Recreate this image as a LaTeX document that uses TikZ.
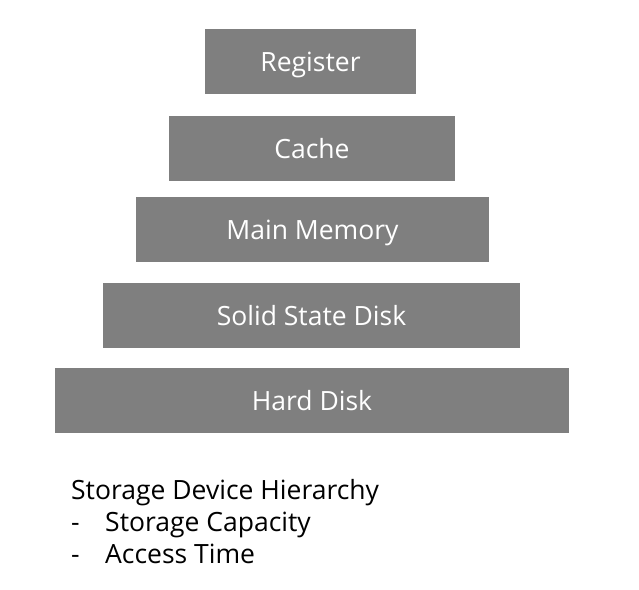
\documentclass[tikz,border=0pt]{standalone}
\usepackage{fontspec}
\setmainfont{Open Sans}
\definecolor{boxgray}{HTML}{7F7F7F}
\begin{document}
\begin{tikzpicture}[x=1pt,y=-1pt,
  level/.style={fill=boxgray,draw=none,text=white,inner sep=0pt,
    text height=42pt,text depth=23pt,minimum height=65pt,
    font=\fontsize{26.5}{30}\selectfont},
  caption/.style={anchor=base west,inner sep=0pt,font=\fontsize{26.5}{30}\selectfont}]
\useasboundingbox (0,0) rectangle (639,589);
\node[level,minimum width=211pt] (reg) at (310.5,61.5) {Register};
\node[level,minimum width=286pt] (cache) at (312,148.5) {Cache};
\node[level,minimum width=353pt] (mem) at (312.5,229.5) {Main Memory};
\node[level,minimum width=417pt] (ssd) at (311.5,315.5) {Solid State Disk};
\node[level,minimum width=514pt] (hdd) at (312,400.5) {Hard Disk};
\node[caption] (title) at (71,499) {Storage Device Hierarchy};
\node[caption] (d1) at (71,531) {-};
\node[caption] (cap) at (105,531) {Storage Capacity};
\node[caption] (d2) at (71,563) {-};
\node[caption] (acc) at (105,563) {Access Time};
\end{tikzpicture}
\end{document}
